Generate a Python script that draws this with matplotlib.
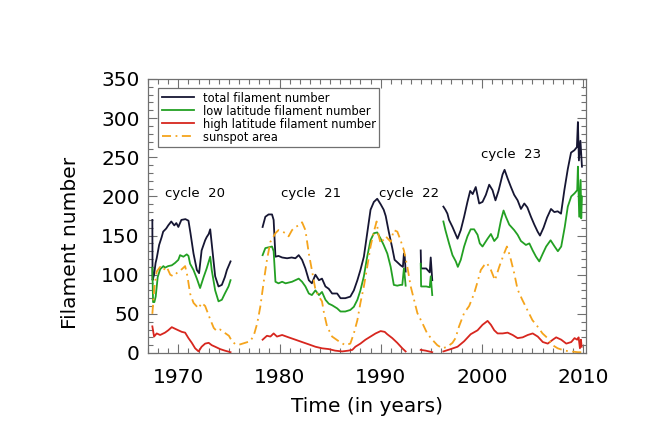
import numpy as np
import matplotlib
matplotlib.use("Agg")
import matplotlib.pyplot as plt
from matplotlib.ticker import MultipleLocator

nan = np.nan

# total filament number (gaps = no data)
total_years = [1967.43, 1967.45, 1967.6, 1967.75, 1967.86, 1968.1, 1968.35, 1968.5, 1968.8, 1969.0,
               1969.3, 1969.6, 1969.8, 1970.0, 1970.3, 1970.7, 1971.0, 1971.2, 1971.5, 1971.83,
               1972.05, 1972.3, 1972.65, 1972.8, 1973.0, 1973.15, 1973.3, 1973.64, 1973.97, 1974.3,
               1974.6, 1974.8, 1975.0, 1975.16, 1976.0,
               1978.33, 1978.6, 1978.92, 1979.26, 1979.42, 1979.6, 1979.9, 1980.26, 1980.75, 1981.2,
               1981.57, 1981.9, 1982.23, 1982.56, 1982.9, 1983.2, 1983.55, 1983.9, 1984.2, 1984.54,
               1984.87, 1985.2, 1985.7, 1986.03, 1986.5, 1987.0, 1987.35, 1987.7, 1988.0, 1988.34,
               1988.67, 1989.0, 1989.33, 1989.66, 1990.0, 1990.3, 1990.5, 1990.8, 1991.15, 1991.38,
               1991.64, 1991.97, 1992.2, 1992.3, 1992.37, 1992.47, 1993.0,
               1993.96, 1994.0, 1994.5, 1994.85, 1994.95, 1995.1, 1995.6,
               1996.2, 1996.4, 1996.6, 1996.76, 1997.1, 1997.43, 1997.6, 1997.92, 1998.25, 1998.58,
               1998.85, 1999.1, 1999.4, 1999.74, 2000.07, 2000.4, 2000.73, 2001.06, 2001.35, 2001.65,
               2002.05, 2002.25, 2002.55, 2002.88, 2003.2, 2003.54, 2003.87, 2004.2, 2004.5, 2004.86,
               2005.19, 2005.52, 2005.75, 2006.1, 2006.45, 2006.84, 2007.17, 2007.5, 2007.83, 2008.16,
               2008.5, 2008.82, 2009.15, 2009.4, 2009.5, 2009.6, 2009.75, 2009.9]
total_vals = [170, 93, 100, 115, 121, 138, 148, 155, 159, 163,
              168, 163, 166, 161, 170, 171, 169, 153, 127, 106,
              102, 131, 144, 148, 152, 158, 140, 98, 85, 87,
              97, 106, 112, 117, nan,
              161, 174, 177, 177, 170, 123, 124, 122, 121, 122,
              121, 125, 119, 108, 93, 89, 100, 93, 95, 85,
              82, 76, 76, 70, 70, 72, 80, 93, 106, 123,
              153, 183, 193, 197, 190, 183, 175, 155, 134, 119,
              116, 112, 110, 127, 125, 104, nan,
              131, 108, 108, 103, 122, 93, nan,
              187, 183, 178, 170, 161, 151, 146, 157, 174, 193,
              207, 203, 212, 191, 193, 202, 215, 208, 195, 207,
              228, 234, 223, 212, 202, 195, 184, 191, 186, 174,
              164, 155, 150, 160, 173, 184, 180, 181, 178, 208,
              235, 256, 259, 263, 295, 246, 271, 238]

# low latitude filament number
low_years = [1967.43, 1967.5, 1967.63, 1967.76, 1967.96, 1968.2, 1968.52, 1968.68, 1969.0, 1969.35,
             1969.67, 1970.0, 1970.17, 1970.5, 1970.83, 1971.0, 1971.16, 1971.5, 1971.83, 1972.15,
             1972.5, 1972.8, 1973.15, 1973.3, 1973.64, 1973.97, 1974.3, 1974.6, 1974.96, 1975.16, 1976.0,
             1978.33, 1978.6, 1979.26, 1979.42, 1979.6, 1979.9, 1980.26, 1980.6, 1981.24, 1981.57,
             1981.9, 1982.23, 1982.56, 1982.9, 1983.2, 1983.55, 1983.9, 1984.2, 1984.54, 1984.87,
             1985.2, 1985.7, 1986.03, 1986.5, 1987.0, 1987.35, 1987.7, 1988.0, 1988.34, 1988.67,
             1989.0, 1989.33, 1989.66, 1990.0, 1990.3, 1990.66, 1990.99, 1991.3, 1991.64, 1991.97,
             1992.14, 1992.3, 1992.37, 1992.47, 1993.0,
             1993.96, 1994.0, 1994.5, 1994.85, 1994.95, 1995.1, 1995.6,
             1996.2, 1996.4, 1996.76, 1997.1, 1997.43, 1997.63, 1997.92, 1998.25, 1998.58, 1998.9,
             1999.24, 1999.58, 1999.8, 2000.07, 2000.57, 2000.9, 2001.23, 2001.56, 2001.9, 2002.15,
             2002.38, 2002.71, 2003.2, 2003.54, 2003.87, 2004.36, 2004.7, 2005.03, 2005.36, 2005.68,
             2006.03, 2006.36, 2006.8, 2007.2, 2007.52, 2007.85, 2008.2, 2008.5, 2008.84, 2009.17,
             2009.43, 2009.5, 2009.63, 2009.77, 2009.83, 2009.9]
low_vals = [109, 65, 65, 72, 97, 107, 111, 109, 111, 112,
            115, 119, 125, 123, 126, 124, 114, 106, 95, 83,
            97, 108, 123, 106, 80, 66, 68, 76, 85, 93, nan,
            125, 134, 136, 130, 91, 89, 91, 89, 91, 93,
            95, 91, 85, 76, 74, 80, 74, 78, 68, 63,
            61, 57, 53, 53, 55, 59, 68, 80, 98, 123,
            144, 153, 154, 146, 138, 127, 110, 87, 86, 87,
            87, 108, 100, 86, nan,
            114, 85, 85, 84, 98, 74, nan,
            168, 157, 140, 125, 117, 110, 119, 136, 149, 158,
            158, 151, 140, 136, 146, 152, 143, 148, 170, 182,
            174, 164, 157, 151, 143, 138, 140, 131, 123, 117,
            127, 136, 144, 136, 130, 136, 161, 187, 200, 204,
            208, 238, 174, 221, 172, 200]

# high latitude filament number
high_years = [1967.43, 1967.6, 1967.86, 1968.2, 1968.68, 1969.0, 1969.35, 1969.67, 1970.0, 1970.34,
              1970.67, 1971.0, 1971.33, 1971.66, 1972.0, 1972.3, 1972.65, 1973.0, 1973.3, 1973.64,
              1974.13, 1974.6, 1975.16, 1976.0,
              1978.33, 1978.76, 1979.1, 1979.42, 1979.75, 1980.26, 1980.9, 1981.57, 1982.23, 1982.9,
              1983.55, 1984.2, 1984.87, 1985.5, 1986.2, 1986.8, 1987.2, 1987.5, 1988.0, 1988.5,
              1989.0, 1989.5, 1990.0, 1990.4, 1990.65, 1991.15, 1991.64, 1992.14, 1992.47, 1993.0,
              1993.96, 1994.45, 1995.1, 1995.6,
              1996.2, 1996.93, 1997.6, 1998.25, 1998.9, 1999.58, 2000.07, 2000.57, 2000.9, 2001.23,
              2001.56, 2002.06, 2002.55, 2003.05, 2003.54, 2004.04, 2004.54, 2005.03, 2005.53, 2006.03,
              2006.52, 2007.02, 2007.35, 2007.85, 2008.35, 2008.84, 2009.17, 2009.43, 2009.57, 2009.7,
              2009.8, 2009.87]
high_vals = [34, 21, 25, 23, 26, 29, 33, 31, 29, 27,
             26, 19, 13, 6, 2, 8, 12, 13, 10, 8,
             5, 3, 1, nan,
             17, 22, 21, 25, 21, 23, 20, 17, 14, 11,
             8, 6, 5, 3, 2, 3, 4, 8, 12, 17,
             21, 25, 28, 27, 24, 19, 13, 6, 2, nan,
             4, 3, 1, nan,
             2, 5, 8, 15, 24, 29, 36, 41, 36, 29,
             25, 25, 26, 23, 19, 20, 23, 25, 21, 14,
             12, 17, 20, 17, 12, 14, 19, 17, 20, 6,
             17, 8]

# sunspot area (scaled)
spot_years = [1967.43, 1967.63, 1967.86, 1968.2, 1968.5, 1968.85, 1969.2, 1969.5, 1970.0, 1970.34,
              1970.67, 1970.9, 1971.16, 1971.5, 1972.0, 1972.3, 1972.65, 1973.15, 1973.5, 1973.8,
              1974.13, 1974.45, 1975.0, 1975.3, 1975.66, 1976.1, 1976.6, 1977.1, 1977.45, 1977.8,
              1978.1, 1978.43, 1978.76, 1979.1, 1979.6, 1979.9, 1980.3, 1980.6, 1980.9, 1981.24,
              1981.57, 1981.9, 1982.23, 1982.56, 1982.9, 1983.2, 1983.55, 1983.9, 1984.2, 1984.4,
              1984.7, 1985.2, 1985.86, 1986.5, 1987.0, 1987.35, 1987.7, 1988.0, 1988.34, 1988.67,
              1989.0, 1989.33, 1989.6, 1989.8, 1990.0, 1990.5, 1991.0, 1991.3, 1991.65, 1991.97,
              1992.3, 1992.64, 1992.8, 1992.97, 1993.3, 1993.63, 1994.13, 1994.6, 1995.1, 1995.6,
              1996.1, 1996.6, 1997.1, 1997.4, 1997.75, 1998.25, 1998.75, 1999.24, 1999.58, 1999.9,
              2000.23, 2000.5, 2000.9, 2001.3, 2001.72, 2002.2, 2002.48, 2002.8, 2003.2, 2003.54,
              2004.0, 2004.5, 2005.0, 2005.5, 2006.0, 2006.5, 2007.0, 2007.5, 2008.2, 2008.8,
              2009.5, 2009.9]
spot_vals = [50, 84, 104, 110, 106, 110, 100, 98, 104, 107,
             111, 98, 76, 64, 57, 64, 60, 43, 32, 28,
             30, 27, 22, 15, 11, 11, 13, 15, 22, 38,
             59, 90, 119, 142, 153, 157, 155, 153, 149, 157,
             161, 163, 167, 157, 127, 106, 81, 72, 66, 51,
             34, 21, 15, 10, 12, 25, 42, 64, 85, 110,
             136, 155, 168, 150, 140, 149, 142, 157, 155, 144,
             131, 110, 98, 85, 68, 51, 38, 25, 17, 10,
             6, 8, 13, 19, 34, 51, 60, 76, 91, 106,
             112, 115, 106, 93, 110, 127, 136, 123, 102, 81,
             68, 55, 42, 34, 25, 19, 10, 6, 3, 2,
             1, 1]

cycle_names = ["cycle  20", "cycle  21", "cycle  22", "cycle  23"]
cycle_x = [1971.66, 1983.15, 1992.77, 2002.88]
cycle_y = [204, 204, 204, 254]

frame = "#707070"

fig = plt.figure(figsize=(6.5, 4.33), dpi=100)
ax = fig.add_axes([148 / 650, 80 / 433, 438 / 650, 274 / 433])

ax.plot(total_years, total_vals, color="#161633", lw=1.3, label="total filament number")
ax.plot(low_years, low_vals, color="#23a023", lw=1.3, label="low latitude filament number")
ax.plot(high_years, high_vals, color="#d7261e", lw=1.3, label="high latitude filament number")
ax.plot(spot_years, spot_vals, color="#f5a41c", lw=1.3, linestyle=(0, (5, 2.5, 1, 2.5)),
        label="sunspot area")

for name, x, y in zip(cycle_names, cycle_x, cycle_y):
    ax.text(x, y, name, ha="center", va="center", fontsize=9.5)

ax.set_xlim(1967, 2010.3)
ax.set_ylim(0, 350)
ax.xaxis.set_major_locator(MultipleLocator(10))
ax.xaxis.set_minor_locator(MultipleLocator(1))
ax.yaxis.set_major_locator(MultipleLocator(50))
ax.yaxis.set_minor_locator(MultipleLocator(10))

ax.tick_params(which="both", direction="in", top=True, right=True, colors=frame,
               labelcolor="black", labelsize=14.5, width=0.8)
ax.tick_params(which="major", length=6.5)
ax.tick_params(which="minor", length=3.3)
ax.tick_params(axis="x", pad=11)
ax.tick_params(axis="y", pad=6)
for sp in ax.spines.values():
    sp.set_color(frame)
    sp.set_linewidth(0.9)

ax.set_xlabel("Time (in years)", fontsize=14.5, labelpad=7)
ax.set_ylabel("Filament number", fontsize=14.5)
ax.yaxis.set_label_coords(-0.155, 0.4)

leg = ax.legend(loc="upper left", bbox_to_anchor=(0.023, 0.967), fontsize=8.3,
                handlelength=2.8, handletextpad=0.8, labelspacing=0.0,
                borderpad=0.3, borderaxespad=0, fancybox=False, framealpha=1)
leg.get_frame().set_edgecolor(frame)
leg.get_frame().set_linewidth(0.9)

fig.savefig("out.png", dpi=100)
